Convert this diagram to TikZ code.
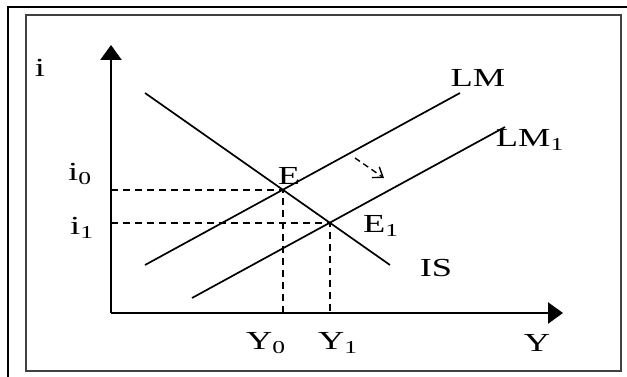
\documentclass[tikz,border=0pt]{standalone}
\usepackage{fontspec}
\setmainfont{Liberation Serif}
\usepackage{graphicx}
\usepackage{tikz}
\usetikzlibrary{arrows.meta,calc,positioning,intersections}
\newcommand{\wlbl}[1]{\scalebox{1.4}[1]{\fontsize{26}{30}\selectfont #1}}

\begin{document}
\begin{tikzpicture}[x=1pt,y=-1pt,
  axis/.style={line width=2.6pt,-{Triangle[length=15pt,width=21pt]}},
  curve/.style={line width=1.7pt},
  guide/.style={line width=1.6pt,dash pattern=on 7pt off 5pt},
  shiftarr/.style={line width=1.4pt,dash pattern=on 6pt off 4pt,-{Straight Barb[length=9pt,width=13pt]}},
  lab/.style={inner sep=0pt}]
  \useasboundingbox (0,0) rectangle (627,377);
  % frames
  \draw[line width=2pt] (8,377) -- (8,7) -- (627,7);
  \draw[line width=1.2pt,black!75] (26,15) rectangle (621,371);
  % axes
  \coordinate (O) at (111,313);
  \coordinate (ytip) at (111,45);
  \coordinate (xtip) at (563,313);
  \draw[axis] (O) -- (ytip);
  \draw[axis] (O) -- (xtip);
  % IS, LM, LM1
  \coordinate (is0) at (145,93);
  \coordinate (is1) at (390,265);
  \coordinate (lm0) at (145,265);
  \coordinate (lm1) at (460,93);
  \coordinate (lmb0) at (192,298);
  \coordinate (lmb1) at (505,127);
  \draw[curve,name path=IS] (is0) -- (is1);
  \draw[curve,name path=LM] (lm0) -- (lm1);
  \draw[curve,name path=LMb] (lmb0) -- (lmb1);
  \path[name intersections={of=IS and LM,by=E}];
  \path[name intersections={of=IS and LMb,by=E1}];
  % guide lines
  \draw[guide] (O |- E) -- (E) -- (E |- O);
  \draw[guide] (O |- E1) -- (E1) -- (E1 |- O);
  % shift of LM
  \coordinate (sh0) at (355,158);
  \coordinate (sh1) at (384,178);
  \draw[shiftarr] (sh0) -- (sh1);
  % labels
  \node[lab] (ilab) at (40,68) {\wlbl{i}};
  \node[lab] (i0lab) at (80,174) {\wlbl{i\textsubscript{0}}};
  \node[lab] (i1lab) at (82,228) {\wlbl{i\textsubscript{1}}};
  \node[lab] (Elab) at (289,176) {\wlbl{E}};
  \node[lab] (E1lab) at (381,226) {\wlbl{E\textsubscript{1}}};
  \node[lab] (LMlab) at (478,78) {\wlbl{LM}};
  \node[lab] (LM1lab) at (530,140) {\wlbl{LM\textsubscript{1}}};
  \node[lab] (ISlab) at (436,268) {\wlbl{IS}};
  \node[lab] (Y0lab) at (266,343) {\wlbl{Y\textsubscript{0}}};
  \node[lab] (Y1lab) at (338,343) {\wlbl{Y\textsubscript{1}}};
  \node[lab] (Ylab) at (537,343) {\wlbl{Y}};
\end{tikzpicture}
\end{document}
